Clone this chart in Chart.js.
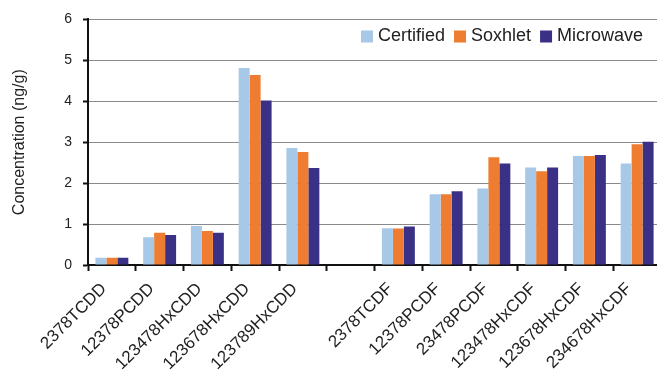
<!DOCTYPE html>
<html>
<head>
<meta charset="utf-8">
<script src="https://cdn.jsdelivr.net/npm/chart.js@4/dist/chart.umd.min.js"></script>
<style>
html,body{margin:0;padding:0;background:#fff;overflow:hidden;}
#wrap{width:657px;height:371px;overflow:hidden;}
canvas{display:block;}
</style>
</head>
<body>
<div id="wrap"><canvas id="c" width="661" height="371"></canvas></div>
<script>
const categories = ['2378TCDD','12378PCDD','123478HxCDD','123678HxCDD','123789HxCDD','',
  '2378TCDF','12378PCDF','23478PCDF','123478HxCDF','123678HxCDF','234678HxCDF'];
const certified = [0.18,0.68,0.95,4.81,2.86,null,0.90,1.73,1.87,2.38,2.66,2.48];
const soxhlet   = [0.18,0.79,0.83,4.64,2.76,null,0.89,1.73,2.63,2.29,2.66,2.95];
const microwave = [0.18,0.73,0.79,4.02,2.37,null,0.94,1.80,2.48,2.38,2.69,3.01];
const yTicks = [0,1,2,3,4,5,6];
const seriesNames = ['Certified','Soxhlet','Microwave'];
const seriesColors = ['#A8C8E8','#EE7D31','#3A3186'];

const insideLegend = {
  id: 'insideLegend',
  afterDraw(chart) {
    const ctx = chart.ctx;
    ctx.save();
    ctx.font = '18px "Liberation Sans", Arial, sans-serif';
    ctx.textBaseline = 'middle';
    let x = 361;
    const y = 36.5;
    chart.data.datasets.forEach(ds => {
      ctx.fillStyle = ds.backgroundColor;
      ctx.fillRect(x, y - 6, 12, 12);
      x += 17;
      ctx.fillStyle = '#222';
      ctx.fillText(ds.label, x, y);
      x += ctx.measureText(ds.label).width + 9;
    });
    ctx.restore();
  }
};

new Chart(document.getElementById('c'), {
  type: 'bar',
  data: {
    labels: categories,
    datasets: [
      {label: seriesNames[0], data: certified, backgroundColor: seriesColors[0]},
      {label: seriesNames[1], data: soxhlet, backgroundColor: seriesColors[1]},
      {label: seriesNames[2], data: microwave, backgroundColor: seriesColors[2]}
    ]
  },
  options: {
    responsive: false,
    animation: false,
    datasets: { bar: { categoryPercentage: 0.69, barPercentage: 1.0 } },
    layout: { padding: { left: 10, top: 19, right: 0, bottom: 0 } },
    plugins: { legend: { display: false }, tooltip: { enabled: false } },
    scales: {
      x: {
        offset: true,
        afterFit: (axis) => { axis.height = 106; axis.paddingLeft = 0; axis.paddingRight = 0; },
        grid: { display: true, drawOnChartArea: false, offset: true, drawTicks: true, tickLength: 6, tickColor: '#111', tickWidth: 2 },
        border: { display: true, color: '#111', width: 2 },
        ticks: { color: '#222', maxRotation: 45, minRotation: 45, autoSkip: false, padding: 8, labelOffset: -8,
                 font: { family: '"Liberation Sans", Arial, sans-serif', size: 17 } }
      },
      y: {
        min: 0, max: 6,
        afterFit: (axis) => { axis.width = 78; },
        afterBuildTicks: (axis) => { axis.ticks = yTicks.map(v => ({ value: v })); },
        grid: { color: '#8a8a8a', lineWidth: 1, tickLength: 5, tickColor: '#111', tickWidth: 2 },
        border: { display: true, color: '#111', width: 2 },
        ticks: { color: '#222', padding: 11, font: { family: '"Liberation Sans", Arial, sans-serif', size: 14 } },
        title: { display: true, text: 'Concentration (ng/g)', color: '#222',
                 padding: { top: 0, bottom: 31 },
                 font: { family: '"Liberation Sans", Arial, sans-serif', size: 16 } }
      }
    }
  },
  plugins: [insideLegend]
});
</script>
</body>
</html>
